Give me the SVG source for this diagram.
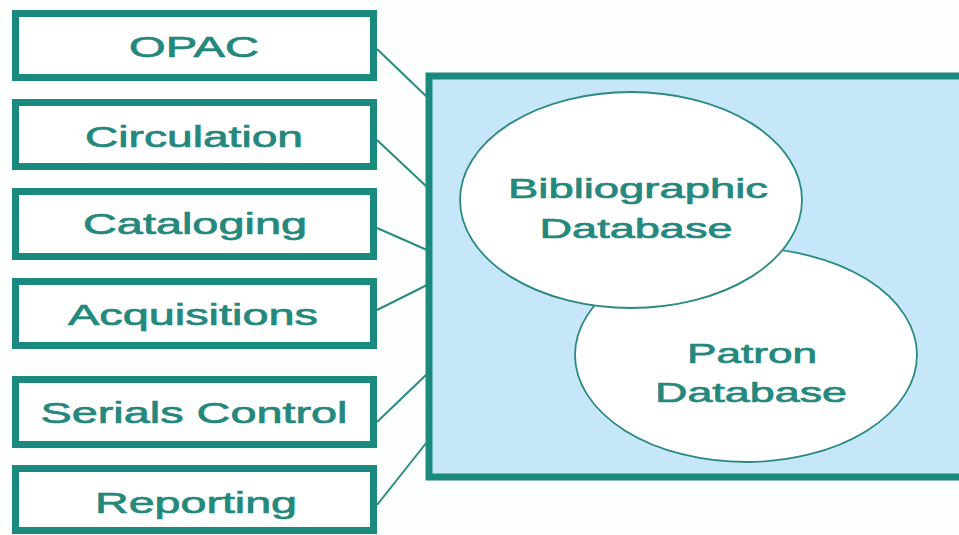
<svg xmlns="http://www.w3.org/2000/svg" width="959" height="535" viewBox="0 0 959 535">
<style>
.box{fill:#ffffff;stroke:#1a8a7f;stroke-width:7}
.lbl{font-family:"Liberation Sans",Arial,sans-serif;font-size:30px;fill:#24887d;stroke:#24887d;stroke-width:0.7;text-anchor:middle}
.db{fill:#ffffff;stroke:#2a8a80;stroke-width:1.8}
.dbl{font-family:"Liberation Sans",Arial,sans-serif;font-size:28.5px;fill:#24887d;stroke:#24887d;stroke-width:0.7;text-anchor:middle}
.conn line{stroke:#2a8a80;stroke-width:2}
</style>
<rect x="0" y="0" width="959" height="535" fill="#fdfefe"/>
<g id="system">
<rect x="429" y="76" width="540" height="401" fill="#c6e6f9" stroke="#1a8a7f" stroke-width="7"/>
</g>
<g id="connectors" class="conn">
<line x1="377" y1="49" x2="427" y2="97"/>
<line x1="377" y1="140" x2="427" y2="187"/>
<line x1="377" y1="228" x2="427" y2="250"/>
<line x1="377" y1="310" x2="427" y2="285"/>
<line x1="377" y1="422" x2="427" y2="374"/>
<line x1="377" y1="505" x2="427" y2="442"/>
</g>
<g id="patron">
<ellipse class="db" cx="746" cy="355" rx="171" ry="107"/>
<text class="dbl" transform="translate(752,363) scale(1.5,1)" textLength="86.7" lengthAdjust="spacingAndGlyphs">Patron</text>
<text class="dbl" transform="translate(751,402) scale(1.5,1)" textLength="128" lengthAdjust="spacingAndGlyphs">Database</text>
</g>
<g id="bibliographic">
<ellipse class="db" cx="631" cy="200" rx="171" ry="108"/>
<text class="dbl" transform="translate(638,198) scale(1.5,1)" textLength="173.3" lengthAdjust="spacingAndGlyphs">Bibliographic</text>
<text class="dbl" transform="translate(636,238) scale(1.5,1)" textLength="128.7" lengthAdjust="spacingAndGlyphs">Database</text>
</g>
<g id="opac">
<rect class="box" x="15.5" y="13.5" width="358" height="64"/>
<text class="lbl" transform="translate(194,57) scale(1.5,1)" textLength="86.7" lengthAdjust="spacingAndGlyphs">OPAC</text>
</g>
<g id="circulation">
<rect class="box" x="15.5" y="102.5" width="358" height="64"/>
<text class="lbl" transform="translate(194,147) scale(1.5,1)" textLength="145.3" lengthAdjust="spacingAndGlyphs">Circulation</text>
</g>
<g id="cataloging">
<rect class="box" x="15.5" y="191.5" width="358" height="65"/>
<text class="lbl" transform="translate(195,234) scale(1.5,1)" textLength="149.3" lengthAdjust="spacingAndGlyphs">Cataloging</text>
</g>
<g id="acquisitions">
<rect class="box" x="15.5" y="281.5" width="358" height="64"/>
<text class="lbl" transform="translate(193,325) scale(1.5,1)" textLength="166.7" lengthAdjust="spacingAndGlyphs">Acquisitions</text>
</g>
<g id="serials">
<rect class="box" x="15.5" y="379.5" width="358" height="65"/>
<text class="lbl" transform="translate(194,423) scale(1.5,1)" textLength="204.7" lengthAdjust="spacingAndGlyphs">Serials Control</text>
</g>
<g id="reporting">
<rect class="box" x="15.5" y="468.5" width="358" height="62"/>
<text class="lbl" transform="translate(196,513) scale(1.5,1)" textLength="134.7" lengthAdjust="spacingAndGlyphs">Reporting</text>
</g>
</svg>
